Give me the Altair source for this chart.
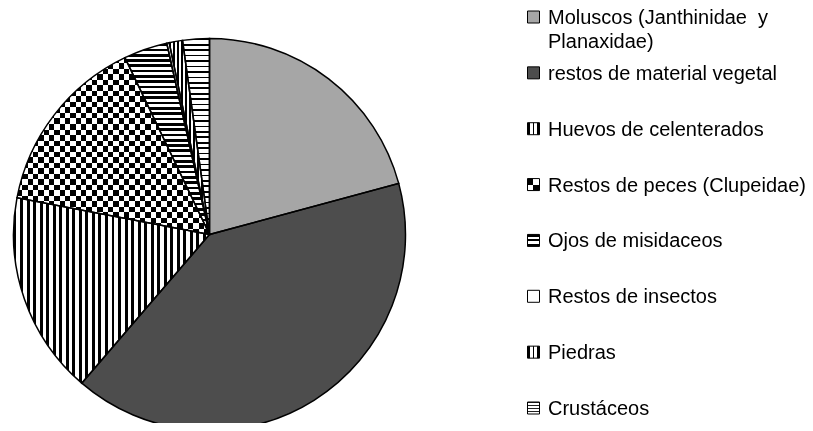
import altair as alt
import pandas as pd

# ---- data ----
keys = ["mol", "veg", "hue", "pec", "ojo", "ins", "pie", "cru"]
labels = [
    "Moluscos (Janthinidae\u00a0 y\nPlanaxidae)",
    "restos de material vegetal",
    "Huevos de celenterados",
    "Restos de peces (Clupeidae)",
    "Ojos de misidaceos",
    "Restos de insectos",
    "Piedras",
    "Crustáceos",
]
values = [20.8, 40.5, 16.7, 14.9, 3.6, 0.2, 1.1, 2.2]

df = pd.DataFrame({"cat": keys, "label": labels, "value": values,
                   "order": list(range(len(keys)))})


# ---- pattern helpers (linear gradients with hard stops) ----
def stripes(n, dark, horizontal=False, c_dark="black", c_light="white"):
    stops = []
    for i in range(n):
        a = round(i / n, 5)
        b = round((i + dark) / n, 5)
        e = round((i + 1) / n, 5)
        stops += [{"offset": a, "color": c_dark}, {"offset": b, "color": c_dark},
                  {"offset": b, "color": c_light}, {"offset": e, "color": c_light}]
    return {"gradient": "linear", "x1": 0, "y1": 0,
            "x2": 0 if horizontal else 1, "y2": 1 if horizontal else 0,
            "stops": stops}


def bands(edges, colors, horizontal=False):
    stops = []
    for (a, b), c in zip(edges, colors):
        stops += [{"offset": a, "color": c}, {"offset": b, "color": c}]
    return {"gradient": "linear", "x1": 0, "y1": 0,
            "x2": 0 if horizontal else 1, "y2": 1 if horizontal else 0,
            "stops": stops}


# slice fills: list of (fill, blend) layers per category
slice_fills = {
    "mol": [("#a6a6a6", None)],
    "veg": [("#4d4d4d", None)],
    "hue": [(stripes(30, 0.45), None)],
    "pec": [(stripes(18, 0.5), None),
            (stripes(16, 0.5, horizontal=True), "difference")],
    "ojo": [(stripes(36, 0.5, horizontal=True), None)],
    "ins": [("white", None)],
    "pie": [(stripes(10, 0.5), None)],
    "cru": [(stripes(36, 0.3, horizontal=True), None)],
}

five = [(0, 0.22), (0.22, 0.42), (0.42, 0.58), (0.58, 0.78), (0.78, 1)]
bw5 = ["black", "white", "black", "white", "black"]
icon_fills = {
    "mol": [("#a6a6a6", None)],
    "veg": [("#4d4d4d", None)],
    "hue": [(bands(five, bw5), None)],
    "pec": [(bands([(0, 0.5), (0.5, 1)], ["black", "white"]), None),
            (bands([(0, 0.5), (0.5, 1)], ["black", "white"], horizontal=True), "difference")],
    "ojo": [(bands(five, bw5, horizontal=True), None)],
    "ins": [("white", None)],
    "pie": [(bands(five, bw5), None)],
    "cru": [(stripes(4, 0.3, horizontal=True, c_dark="#222222"), None)],
}

CX, CY, R = 201.5, 226.5, 196

pie_base = (alt.Chart(df)
            .transform_window(cum="sum(value)", sort=[{"field": "order"}], frame=[None, 0])
            .transform_calculate(start="datum.cum - datum.value"))

theta = alt.Theta("start:Q", scale=alt.Scale(domain=[0, 100]), stack=False)
theta2 = alt.Theta2("cum:Q")

layers = []
for k in keys:
    for fill, blend in slice_fills[k]:
        kw = dict(fill=fill, radius=R, strokeWidth=0)
        if blend:
            kw["blend"] = blend
        layers.append(
            pie_base.transform_filter(alt.datum.cat == k)
            .mark_arc(**kw)
            .encode(theta=theta, theta2=theta2,
                    x=alt.value(CX), y=alt.value(CY))
        )

# outlines
layers.append(
    pie_base.mark_arc(radius=R, fillOpacity=0, stroke="black", strokeWidth=1.5)
    .encode(theta=theta, theta2=theta2, x=alt.value(CX), y=alt.value(CY))
)

# ---- manual legend ----
yenc = alt.Y("cat:N", sort=keys, axis=None,
             scale=alt.Scale(type="point", range=[9, 400], padding=0))
ICX = 525.5
for k in keys:
    for fill, blend in icon_fills[k]:
        kw = dict(fill=fill, size=144, strokeWidth=0, opacity=1, filled=True)
        if blend:
            kw["blend"] = blend
        layers.append(
            alt.Chart(df).transform_filter(alt.datum.cat == k)
            .mark_square(**kw)
            .encode(x=alt.value(ICX), y=yenc)
        )
layers.append(
    alt.Chart(df).mark_square(size=144, fillOpacity=0, stroke="black",
                              strokeWidth=1, filled=True, opacity=1)
    .encode(x=alt.value(ICX), y=yenc)
)
layers.append(
    alt.Chart(df).mark_text(align="left", baseline="alphabetic", dy=7,
                            fontSize=20, font="Liberation Sans",
                            lineBreak="\n", lineHeight=24, color="black")
    .encode(x=alt.value(540), y=yenc, text="label:N")
)

chart = (alt.layer(*layers)
         .properties(width=797, height=415,
                     autosize=alt.AutoSizeParams(type="none"), padding=0)
         .configure_view(strokeWidth=0))

chart.save("out.html", embed_options={"renderer": "svg", "actions": False})
